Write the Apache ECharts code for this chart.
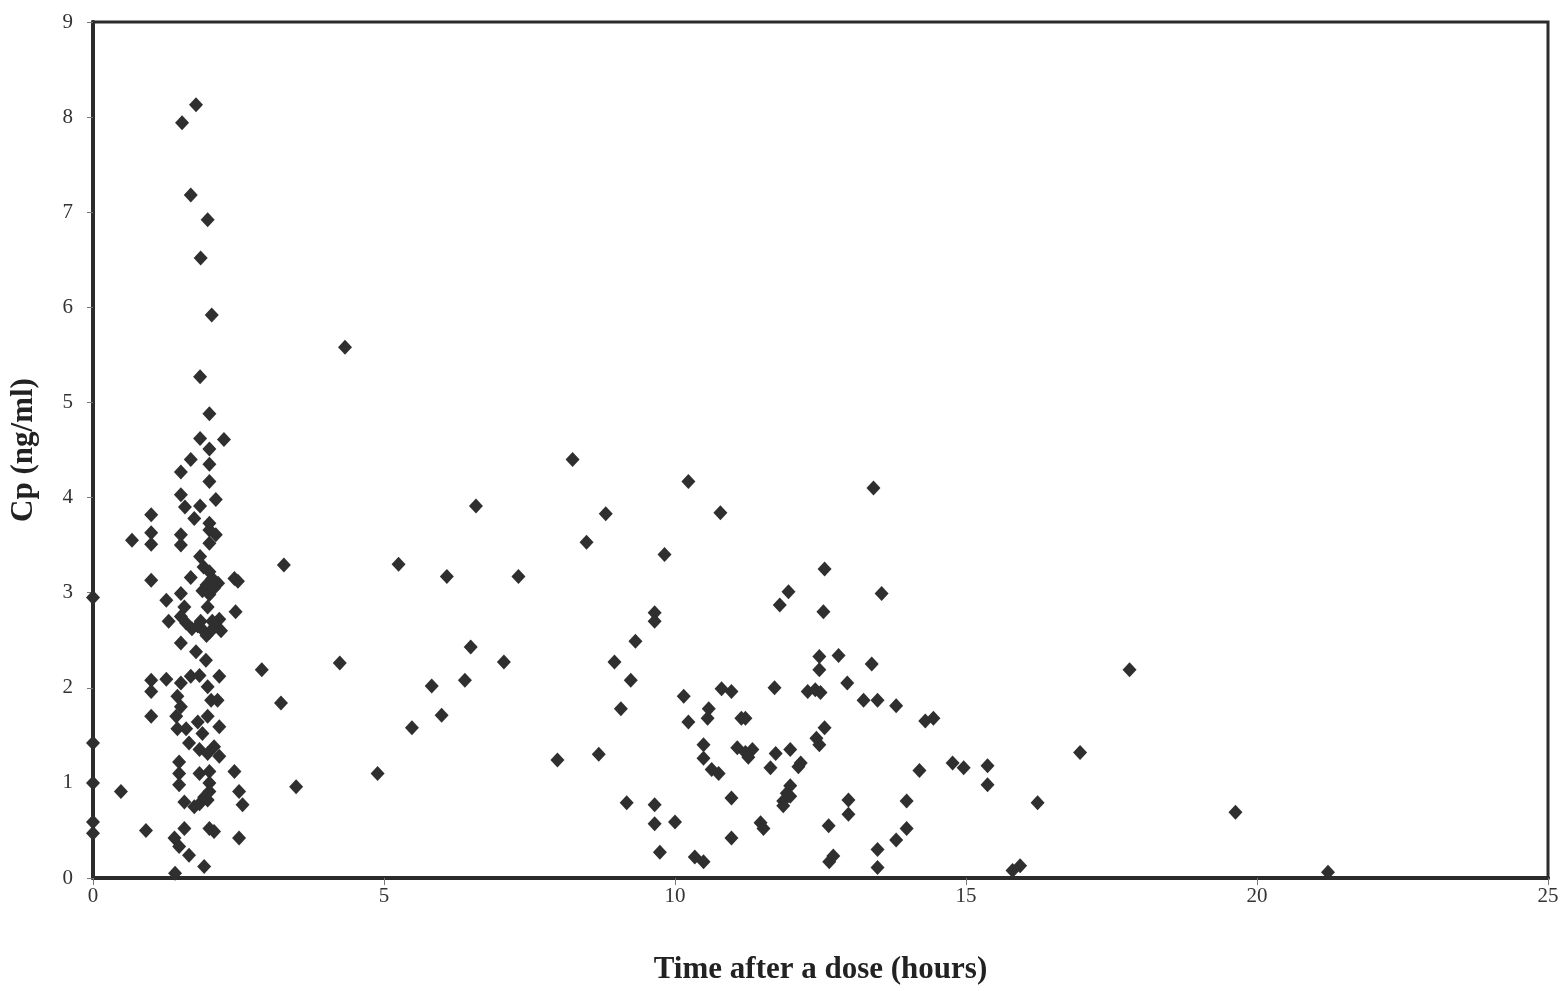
<!DOCTYPE html>
<html>
<head>
<meta charset="utf-8">
<script src="https://cdn.jsdelivr.net/npm/echarts@6/dist/echarts.min.js"></script>
<style>
  html, body { margin: 0; padding: 0; background: #fff; }
  #chart { width: 1563px; height: 991px; }
</style>
</head>
<body>
<div id="chart"></div>
<script>
// Axis ranges and tick labels
const xTicks = [0, 5, 10, 15, 20, 25];
const yTicks = [0, 1, 2, 3, 4, 5, 6, 7, 8, 9];

// Sampling times after a dose (hours)
const timeHours = [
  1.77, 1.53, 1.68, 1.97, 1.85, 2.04, 1.84, 2.0, 1.84, 2.25, 2.0, 1.68, 2.0, 1.51, 2.0, 1.51, 2.11, 1.58, 1.84, 1.74,
  2.0, 2.0, 2.11, 1.0, 1.0, 1.0, 0.67, 1.51, 1.51, 2.0, 1.84, 1.9, 2.0, 2.05, 1.95, 2.08, 1.88, 2.15, 2.0, 2.43,
  2.49, 1.0, 1.68, 1.51, 1.26, 2.45, 0.0, 1.30, 2.17, 1.57, 1.97, 1.6, 1.51, 1.8, 1.9, 2.0, 2.1, 2.2, 1.7, 1.85,
  2.05, 1.95, 1.51, 1.77, 1.94, 2.17, 1.26, 1.0, 1.0, 1.51, 1.45, 1.51, 1.68, 1.83, 1.97, 2.03, 2.14, 1.0, 1.43, 1.45,
  1.60, 1.80, 1.97, 1.88, 2.17, 1.65, 1.83, 1.97, 2.08, 2.17, 0.0, 0.0, 0.48, 0.0, 0.0, 1.48, 1.48, 1.48, 1.83, 2.0,
  2.43, 2.0, 2.0, 1.91, 2.51, 2.57, 1.57, 1.74, 1.83, 1.97, 0.91, 1.57, 2.0, 2.08, 2.51, 1.40, 1.48, 1.65, 1.91, 1.41,
  2.9, 3.23, 3.28, 3.49, 4.24, 4.33, 4.89, 5.25, 5.48, 5.82, 5.99, 6.08, 6.39, 6.49, 6.58, 7.06, 7.31, 7.98, 8.24, 8.48,
  8.69, 8.81, 8.96, 9.07, 9.17, 9.24, 9.32, 9.65, 9.65, 9.65, 9.65, 9.74, 9.82, 10.0, 10.15, 10.23, 10.23, 10.34, 10.49, 10.49,
  10.49, 10.56, 10.58, 10.63, 10.75, 10.78, 10.8, 10.97, 10.97, 10.97, 11.07, 11.14, 11.21, 11.21, 11.26, 11.33, 11.47, 11.52, 11.64, 11.71,
  11.73, 11.8, 11.86, 11.86, 11.95, 11.98, 11.92, 11.98, 11.98, 12.12, 12.16, 12.28, 12.41, 12.43, 12.48, 12.5, 12.48, 12.48, 12.57, 12.55,
  12.57, 12.64, 12.65, 12.72, 12.81, 12.96, 12.98, 12.98, 13.24, 13.38, 13.41, 13.48, 13.48, 13.48, 13.55, 13.8, 13.8, 13.98, 13.98, 14.2,
  14.3, 14.44, 14.77, 14.96, 15.37, 15.37, 15.8, 15.93, 16.23, 16.96, 17.81, 19.63, 21.22
];

// Plasma concentration Cp (ng/ml)
const cpValues = [
  8.13, 7.94, 7.18, 6.92, 6.52, 5.92, 5.27, 4.88, 4.62, 4.61, 4.51, 4.40, 4.35, 4.27, 4.17, 4.03, 3.98, 3.90, 3.91, 3.78,
  3.73, 3.66, 3.61, 3.82, 3.63, 3.51, 3.55, 3.61, 3.50, 3.52, 3.38, 3.27, 3.22, 3.15, 3.08, 3.05, 3.02, 3.10, 2.98, 3.15,
  3.12, 3.13, 3.16, 2.99, 2.92, 2.80, 2.95, 2.70, 2.72, 2.85, 2.85, 2.68, 2.75, 2.65, 2.60, 2.58, 2.65, 2.60, 2.62, 2.70,
  2.70, 2.55, 2.47, 2.38, 2.29, 2.12, 2.09, 2.08, 1.96, 2.05, 1.91, 1.80, 2.12, 2.13, 2.01, 1.87, 1.87, 1.70, 1.70, 1.57,
  1.57, 1.64, 1.70, 1.52, 1.59, 1.42, 1.35, 1.31, 1.38, 1.28, 1.42, 1.00, 0.91, 0.59, 0.47, 1.22, 1.10, 0.98, 1.10, 1.12,
  1.12, 1.00, 0.91, 0.85, 0.91, 0.77, 0.80, 0.75, 0.78, 0.82, 0.50, 0.52, 0.52, 0.49, 0.42, 0.42, 0.33, 0.24, 0.12, 0.05,
  2.19, 1.84, 3.29, 0.96, 2.26, 5.58, 1.10, 3.30, 1.58, 2.02, 1.71, 3.17, 2.08, 2.43, 3.91, 2.27, 3.17, 1.24, 4.40, 3.53,
  1.30, 3.83, 2.27, 1.78, 0.79, 2.08, 2.49, 0.77, 0.57, 2.79, 2.70, 0.27, 3.40, 0.59, 1.91, 4.17, 1.64, 0.22, 0.17, 1.40,
  1.26, 1.68, 1.78, 1.14, 1.10, 3.84, 1.99, 1.96, 0.84, 0.42, 1.37, 1.68, 1.68, 1.32, 1.27, 1.35, 0.58, 0.52, 1.16, 2.00,
  1.31, 2.87, 0.81, 0.76, 3.01, 1.35, 0.89, 0.86, 0.97, 1.17, 1.21, 1.96, 1.98, 1.47, 1.40, 1.95, 2.33, 2.19, 3.25, 2.80,
  1.58, 0.55, 0.17, 0.23, 2.34, 2.05, 0.67, 0.82, 1.87, 2.25, 4.10, 1.87, 0.30, 0.11, 2.99, 1.81, 0.40, 0.81, 0.52, 1.13,
  1.65, 1.68, 1.21, 1.16, 1.18, 0.98, 0.08, 0.13, 0.79, 1.32, 2.19, 0.69, 0.06
];

const points = timeHours.map((t, i) => [t, cpValues[i]]);

const serif = '"Liberation Serif", "DejaVu Serif", serif';
const ink = '#2b2b2b';

const chart = echarts.init(document.getElementById('chart'), null, { renderer: 'canvas' });
chart.setOption({
  backgroundColor: '#ffffff',
  animation: false,
  grid: {
    left: 92, right: 15, top: 22, bottom: 113,
    show: true, borderColor: ink, borderWidth: 3, backgroundColor: 'transparent'
  },
  xAxis: {
    type: 'value',
    min: xTicks[0], max: xTicks[xTicks.length - 1], interval: 5,
    name: 'Time after a dose (hours)',
    nameLocation: 'middle', nameGap: 76,
    nameTextStyle: { fontFamily: serif, fontWeight: 'bold', fontSize: 31, color: '#222' },
    axisLine: { show: true, lineStyle: { color: ink, width: 4 } },
    axisTick: { show: true, length: 7, lineStyle: { color: '#777', width: 1 } },
    axisLabel: { fontFamily: serif, fontSize: 21, color: '#333', margin: 8 },
    splitLine: { show: false }
  },
  yAxis: {
    type: 'value',
    min: yTicks[0], max: yTicks[yTicks.length - 1], interval: 1,
    name: 'Cp (ng/ml)',
    nameLocation: 'middle', nameGap: 54, nameRotate: 90,
    nameTextStyle: { fontFamily: serif, fontWeight: 'bold', fontSize: 31, color: '#222' },
    axisLine: { show: true, lineStyle: { color: ink, width: 4 } },
    axisTick: { show: true, length: 6, lineStyle: { color: '#777', width: 1 } },
    axisLabel: { fontFamily: serif, fontSize: 21, color: '#333', margin: 20 },
    splitLine: { show: false }
  },
  series: [{
    type: 'scatter',
    data: points,
    symbol: 'diamond',
    symbolSize: [14, 15],
    itemStyle: { color: '#2f2f2f', opacity: 1 },
    clip: false
  }]
});
</script>
</body>
</html>
